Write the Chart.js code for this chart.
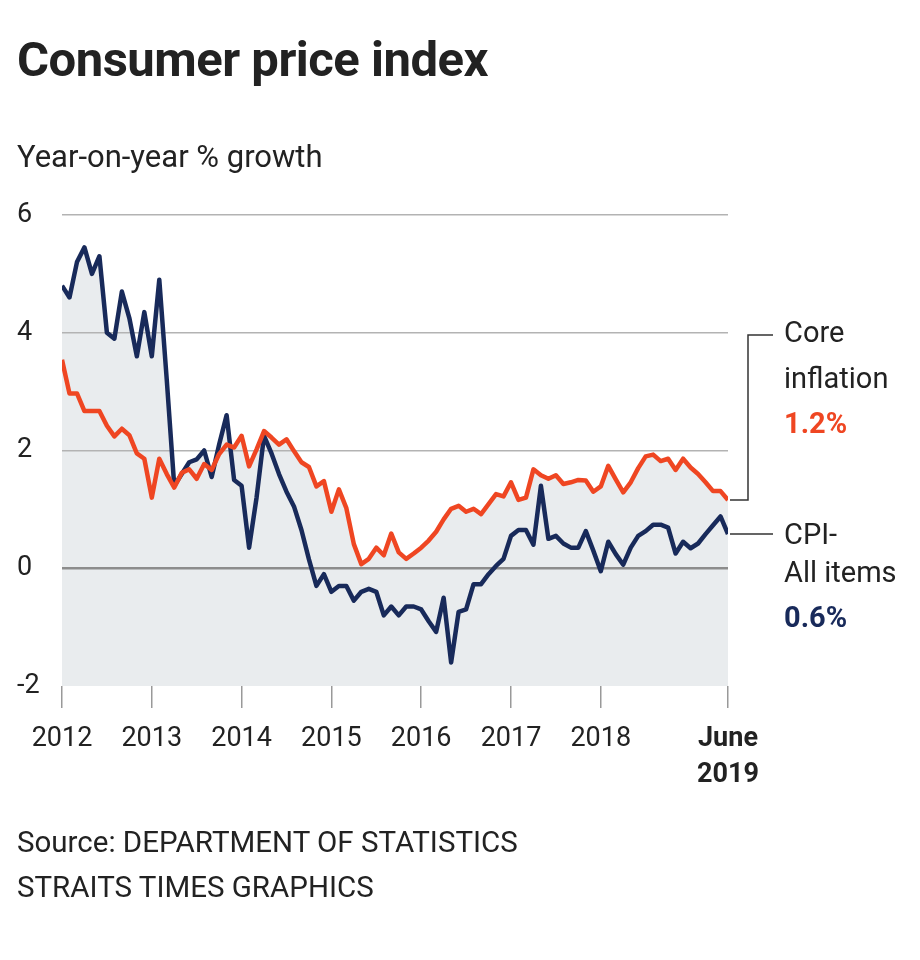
<!DOCTYPE html>
<html>
<head>
<meta charset="utf-8">
<script src="https://cdn.jsdelivr.net/npm/chart.js@4.4.1/dist/chart.umd.min.js"></script>
<style>
  body { margin: 0; background: #fff; }
  #wrap { position: relative; width: 920px; height: 960px; font-family: Roboto, "Noto Sans", sans-serif; color: #222; }
  canvas { position: absolute; left: 0; top: 0; }
  .txt { position: absolute; white-space: nowrap; line-height: 1; }
  #title { left: 17px; top: 35px; font-size: 49px; font-weight: 700; letter-spacing: -0.5px; }
  #subtitle { left: 17px; top: 141px; font-size: 31px; }
  .lab { font-size: 29px; left: 784px; }
  .val { font-size: 29px; left: 784px; font-weight: 700; }
  .src { left: 17px; font-size: 29.5px; }
</style>
</head>
<body>
<div id="wrap">
  <canvas id="cpiChart" width="920" height="960"></canvas>
  <div class="txt" id="title">Consumer price index</div>
  <div class="txt" id="subtitle">Year-on-year % growth</div>
  <div class="txt lab" style="top:318px">Core</div>
  <div class="txt lab" style="top:364px">inflation</div>
  <div class="txt val" style="top:409px;color:#ef4622">1.2%</div>
  <div class="txt lab" style="top:520px">CPI-</div>
  <div class="txt lab" style="top:558px">All items</div>
  <div class="txt val" style="top:603px;color:#182a5a">0.6%</div>
  <div class="txt src" style="top:828px">Source: DEPARTMENT OF STATISTICS</div>
  <div class="txt src" style="top:873px">STRAITS TIMES GRAPHICS</div>
</div>
<script>
// monthly, Jan 2012 .. Jun 2019
const yearTicks = [0, 12, 24, 36, 48, 60, 72, 89];
const yearLabels = ['2012', '2013', '2014', '2015', '2016', '2017', '2018', ['June', '2019']];

const cpiAll = [
  4.8, 4.6, 5.2, 5.45, 5.0, 5.3, 4.0, 3.9, 4.7, 4.25, 3.6, 4.35,
  3.6, 4.9, 3.2, 1.4, 1.6, 1.8, 1.85, 2.0, 1.55, 2.1, 2.6, 1.5,
  1.4, 0.35, 1.2, 2.25, 1.95, 1.6, 1.3, 1.05, 0.65, 0.15, -0.3, -0.1,
  -0.4, -0.3, -0.3, -0.55, -0.4, -0.35, -0.4, -0.8, -0.65, -0.8, -0.65, -0.65,
  -0.7, -0.9, -1.08, -0.5, -1.6, -0.74, -0.7, -0.27, -0.27, -0.1, 0.04, 0.16,
  0.55, 0.65, 0.65, 0.4, 1.4, 0.5, 0.55, 0.42, 0.35, 0.35, 0.63, 0.3,
  -0.05, 0.45, 0.24, 0.06, 0.35, 0.55, 0.63, 0.74, 0.74, 0.69, 0.25, 0.45,
  0.34, 0.42, 0.58, 0.73, 0.88, 0.58
];

const coreInfl = [
  3.54, 2.97, 2.97, 2.67, 2.67, 2.67, 2.42, 2.24, 2.37, 2.26, 1.95, 1.86,
  1.2, 1.86, 1.6, 1.37, 1.62, 1.68, 1.52, 1.77, 1.67, 1.94, 2.1, 2.05,
  2.25, 1.73, 2.02, 2.33, 2.22, 2.1, 2.19, 1.99, 1.8, 1.72, 1.39, 1.48,
  0.96, 1.34, 1.02, 0.41, 0.07, 0.16, 0.35, 0.22, 0.59, 0.27, 0.16, 0.25,
  0.35, 0.47, 0.62, 0.83, 1.01, 1.06, 0.96, 1.01, 0.92, 1.09, 1.26, 1.22,
  1.46, 1.16, 1.2, 1.68, 1.58, 1.52, 1.58, 1.43, 1.46, 1.5, 1.49, 1.3,
  1.39, 1.74, 1.51, 1.29, 1.46, 1.7, 1.9, 1.93, 1.82, 1.86, 1.67, 1.86,
  1.71, 1.6, 1.46, 1.31, 1.31, 1.16
];

const navy = '#182a5a';
const orange = '#ef4622';
const shade = '#e9ecee';

const toPts = arr => arr.map((v, i) => ({ x: i, y: v }));

// leader lines from the last points to the labels on the right
const leaders = {
  id: 'leaders',
  afterDatasetsDraw(chart) {
    const { ctx, scales: { x, y } } = chart;
    const last = cpiAll.length - 1;
    const px = x.getPixelForValue(last);
    const yCore = y.getPixelForValue(coreInfl[last]);
    const yCpi = y.getPixelForValue(cpiAll[last]);
    ctx.save();
    ctx.strokeStyle = '#333';
    ctx.lineWidth = 1.5;
    ctx.beginPath();
    ctx.moveTo(px + 2, yCore);
    ctx.lineTo(748, yCore);
    ctx.lineTo(748, 335);
    ctx.lineTo(773, 335);
    ctx.moveTo(px + 2, yCpi);
    ctx.lineTo(773, yCpi);
    ctx.stroke();
    ctx.restore();
  }
};

new Chart(document.getElementById('cpiChart'), {
  type: 'line',
  data: {
    datasets: [
      {
        label: 'Core inflation',
        data: toPts(coreInfl),
        borderColor: orange,
        backgroundColor: shade,
        borderWidth: 4.5,
        borderJoinStyle: 'round',
        pointRadius: 0,
        fill: 'start',
        order: 0
      },
      {
        label: 'CPI-All items',
        data: toPts(cpiAll),
        borderColor: navy,
        backgroundColor: shade,
        borderWidth: 4.5,
        borderJoinStyle: 'round',
        pointRadius: 0,
        fill: 'start',
        order: 1
      }
    ]
  },
  options: {
    responsive: false,
    animation: false,
    devicePixelRatio: 1,
    layout: { padding: { left: 17, right: 192, top: 215, bottom: 174 } },
    plugins: {
      legend: { display: false },
      tooltip: { enabled: false },
      filler: { drawTime: 'beforeDraw' }
    },
    scales: {
      x: {
        type: 'linear',
        min: 0,
        max: 89,
        afterBuildTicks: s => { s.ticks = yearTicks.map(v => ({ value: v })); },
        afterFit: s => { s.height = 100; },
        border: { display: false },
        grid: {
          drawOnChartArea: false,
          drawTicks: true,
          tickLength: 22,
          tickColor: '#999',
          lineWidth: 1.5
        },
        ticks: {
          autoSkip: false,
          maxRotation: 0,
          padding: 13,
          color: '#222',
          font: ctx => ({
            family: 'Roboto',
            size: 27,
            weight: ctx.tick && ctx.tick.value === 89 ? '700' : '400',
            lineHeight: 1.35
          }),
          callback: v => yearLabels[yearTicks.indexOf(v)]
        }
      },
      y: {
        min: -2,
        max: 6,
        afterFit: s => { s.width = 45; },
        border: { display: false },
        grid: {
          drawTicks: false,
          color: ctx => ctx.tick.value === 0 ? '#8c8c8c' : (ctx.tick.value === -2 ? 'rgba(0,0,0,0)' : '#b3b3b3'),
          lineWidth: ctx => ctx.tick.value === 0 ? 2.5 : 1.5
        },
        ticks: {
          stepSize: 2,
          crossAlign: 'far',
          padding: 0,
          color: '#222',
          font: { family: 'Roboto', size: 27 }
        }
      }
    }
  },
  plugins: [leaders]
});
</script>
</body>
</html>
